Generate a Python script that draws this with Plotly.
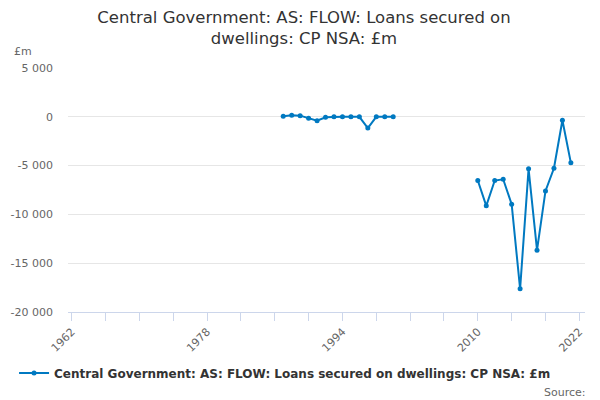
import plotly.graph_objects as go

years = list(range(1987, 2022))
values = [
    50, 150, 120, -150, -400, -50, 0, 0, 0, 0, -1150, 0, 0, 0,   # 1987-2000
    None, None, None, None, None, None, None, None, None,          # 2001-2009
    -6530, -9120, -6530, -6400, -8960, -17630, -5330, -13670,      # 2010-2017
    -7590, -5270, -350, -4715,                                     # 2018-2021
]

x_label_years = [1962, 1978, 1994, 2010, 2022]
x_minor_years = list(range(1962, 2023, 4))
y_tick_vals = [5000, 0, -5000, -10000, -15000, -20000]
y_tick_text = ["5 000", "0", "-5 000", "-10 000", "-15 000", "-20 000"]

series_name = "Central Government: AS: FLOW: Loans secured on dwellings: CP NSA: £m"
title_text = "Central Government: AS: FLOW: Loans secured on<br>dwellings: CP NSA: £m"

color = "#0079c1"
axis_color = "#ccd6eb"
label_color = "#666666"

W, H = 592, 392  # page body has an 8px margin

fig = go.Figure()
fig.add_trace(go.Scatter(
    x=years, y=values, mode="lines+markers", name="<b>" + series_name + "</b>",
    line=dict(color=color, width=2), marker=dict(color=color, size=5),
    connectgaps=False,
))

fig.update_layout(
    width=W, height=H,
    margin=dict(l=60, r=15, t=60, b=88, autoexpand=False),
    paper_bgcolor="white", plot_bgcolor="white",
    font=dict(family="DejaVu Sans", color="#333333"),
    title=dict(text=title_text, x=0.5, xanchor="center", xref="container",
               y=1 - 15 / H, yanchor="top", yref="container",
               font=dict(size=16.5, color="#333333"), automargin=False),
    showlegend=True,
    legend=dict(orientation="h", x=0.468, xanchor="center", xref="container",
                y=1 - 365 / H, yanchor="middle", yref="container",
                font=dict(size=12, color="#333333"), bgcolor="rgba(0,0,0,0)",
                itemwidth=30),
    xaxis=dict(
        range=[1961.56, 2022.67], showgrid=False, zeroline=False, automargin=False,
        showline=True, linecolor=axis_color, linewidth=1,
        tickmode="array", tickvals=x_label_years, ticktext=[str(v) for v in x_label_years],
        ticks="outside", ticklen=8, tickcolor=axis_color, tickangle=-45,
        tickfont=dict(size=11, color=label_color),
        minor=dict(tickmode="array", tickvals=x_minor_years, ticks="outside",
                   ticklen=8, tickcolor=axis_color, showgrid=False),
    ),
    yaxis=dict(
        range=[-20000, 5000], showgrid=True, gridcolor="#e6e6e6", gridwidth=1,
        zeroline=False, showline=False, automargin=False,
        tickmode="array", tickvals=y_tick_vals, ticktext=y_tick_text,
        tickfont=dict(size=11, color=label_color), ticks="", ticklabelstandoff=14,
    ),
    annotations=[
        dict(text="£m", xref="paper", yref="paper", x=-0.108, y=1.0656,
             xanchor="left", yanchor="middle", showarrow=False,
             font=dict(size=11, color=label_color)),
        dict(text="Source:", xref="paper", yref="paper", x=1.0058, y=-0.328,
             xanchor="right", yanchor="middle", showarrow=False,
             font=dict(size=11, color=label_color)),
    ],
)

fig.write_html("out.html")
